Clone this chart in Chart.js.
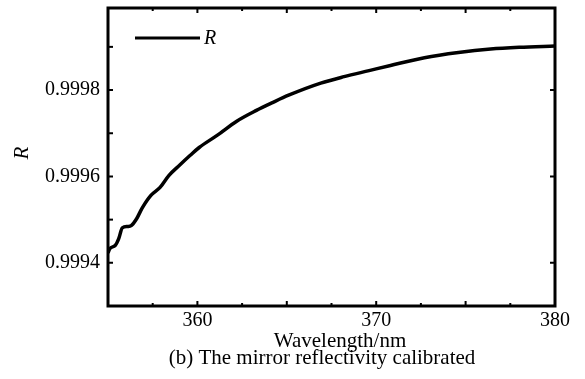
<!DOCTYPE html>
<html>
<head>
<meta charset="utf-8">
<script src="https://cdn.jsdelivr.net/npm/chart.js@4/dist/chart.umd.min.js"></script>
<style>
  html, body { margin: 0; padding: 0; background: #fff; }
  #wrap { width: 585px; height: 379px; }
</style>
</head>
<body>
<div id="wrap"><canvas id="c" width="585" height="379"></canvas></div>
<script>
// ---- data ----
const wavelength = [355.0, 355.1, 355.4, 355.6, 355.8, 356.1, 356.3, 356.6, 356.9, 357.4, 357.9, 358.4, 359.0, 359.6, 360.1, 361.1, 362.2, 363.3, 364.2, 365.1, 366.9, 368.2, 369.6, 370.8, 372.7, 374.6, 376.4, 378.0, 380.0];
const reflectivity = [0.999423, 0.999433, 0.999440, 0.999456, 0.999481, 0.999484, 0.999486, 0.999502, 0.999526, 0.999556, 0.999574, 0.999602, 0.999626, 0.999649, 0.999667, 0.999695, 0.999728, 0.999753, 0.999771, 0.999788, 0.999816, 0.999831, 0.999845, 0.999857, 0.999875, 0.999887, 0.999895, 0.999899, 0.999902];
const seriesName = 'R';
const xTicks = [355, 357.5, 360, 362.5, 365, 367.5, 370, 372.5, 375, 377.5, 380];
const xLabels = [360, 370, 380];
const yTicks = [0.9993, 0.9994, 0.9995, 0.9996, 0.9997, 0.9998, 0.9999];
const yLabels = [0.9994, 0.9996, 0.9998];
const xTitle = 'Wavelength/nm';
const yTitle = 'R';
const caption = '(b) The mirror reflectivity calibrated';

const SERIF = '"Liberation Serif", "DejaVu Serif", serif';
const near = (a, b) => Math.abs(a - b) < 1e-9;

const decor = {
  id: 'decor',
  afterDraw(chart) {
    const { ctx, chartArea: a, scales: { x, y } } = chart;
    ctx.save();
    ctx.strokeStyle = '#000';
    ctx.fillStyle = '#000';
    // inward tick marks
    ctx.lineWidth = 2;
    xTicks.forEach(v => {
      const px = x.getPixelForValue(v);
      const major = near(v / 5, Math.round(v / 5));
      const len = major ? 5 : 3;
      ctx.beginPath();
      ctx.moveTo(px, a.bottom); ctx.lineTo(px, a.bottom - len);
      ctx.moveTo(px, a.top); ctx.lineTo(px, a.top + len);
      ctx.stroke();
    });
    yTicks.forEach(v => {
      const py = y.getPixelForValue(v);
      ctx.beginPath();
      ctx.moveTo(a.left, py); ctx.lineTo(a.left + 5, py);
      if (yLabels.some(l => near(l, v))) {
        ctx.moveTo(a.right, py); ctx.lineTo(a.right - 5, py);
      }
      ctx.stroke();
    });
    // frame
    ctx.lineWidth = 3;
    ctx.strokeRect(a.left, a.top, a.right - a.left, a.bottom - a.top);
    // legend
    ctx.lineWidth = 3;
    ctx.beginPath();
    ctx.moveTo(135, 38); ctx.lineTo(200, 38);
    ctx.stroke();
    ctx.font = 'italic 20px ' + SERIF;
    ctx.textAlign = 'left';
    ctx.textBaseline = 'middle';
    ctx.fillText(seriesName, 204, 39);
    // axis titles
    ctx.font = '21px ' + SERIF;
    ctx.textAlign = 'center';
    ctx.textBaseline = 'alphabetic';
    ctx.fillText(xTitle, 340, 347);
    ctx.fillText(caption, 322, 364);
    ctx.save();
    ctx.translate(28, 153);
    ctx.rotate(-Math.PI / 2);
    ctx.font = 'italic 21px ' + SERIF;
    ctx.fillText(yTitle, 0, 0);
    ctx.restore();
    ctx.restore();
  }
};

new Chart(document.getElementById('c'), {
  type: 'scatter',
  data: {
    datasets: [{
      label: seriesName,
      data: wavelength.map((w, i) => ({ x: w, y: reflectivity[i] })),
      showLine: true,
      borderColor: '#000',
      backgroundColor: '#000',
      borderWidth: 3.5,
      pointRadius: 0,
      cubicInterpolationMode: 'monotone'
    }]
  },
  options: {
    responsive: false,
    animation: false,
    layout: { padding: { left: 0, top: 8, right: 30, bottom: 0 } },
    plugins: { legend: { display: false }, tooltip: { enabled: false } },
    scales: {
      x: {
        type: 'linear',
        min: 355, max: 380,
        afterBuildTicks: s => { s.ticks = xTicks.map(v => ({ value: v })); },
        afterFit: s => { s.height = 73; s.paddingLeft = 0; s.paddingRight = 0; },
        grid: { display: false, drawTicks: false },
        border: { display: false },
        ticks: {
          padding: 3,
          autoSkip: false,
          maxRotation: 0,
          color: '#000',
          font: { family: SERIF, size: 20 },
          callback: v => xLabels.some(l => near(l, v)) ? String(v) : ''
        }
      },
      y: {
        type: 'linear',
        min: 0.9993, max: 0.99999,
        afterBuildTicks: s => { s.ticks = yTicks.map(v => ({ value: v })); },
        afterFit: s => { s.width = 108; s.paddingTop = 0; s.paddingBottom = 0; },
        grid: { display: false, drawTicks: false },
        border: { display: false },
        ticks: {
          padding: 8,
          autoSkip: false,
          color: '#000',
          font: { family: SERIF, size: 20 },
          callback: v => yLabels.some(l => near(l, v)) ? v.toFixed(4) : ''
        }
      }
    }
  },
  plugins: [decor]
});
</script>
</body>
</html>
